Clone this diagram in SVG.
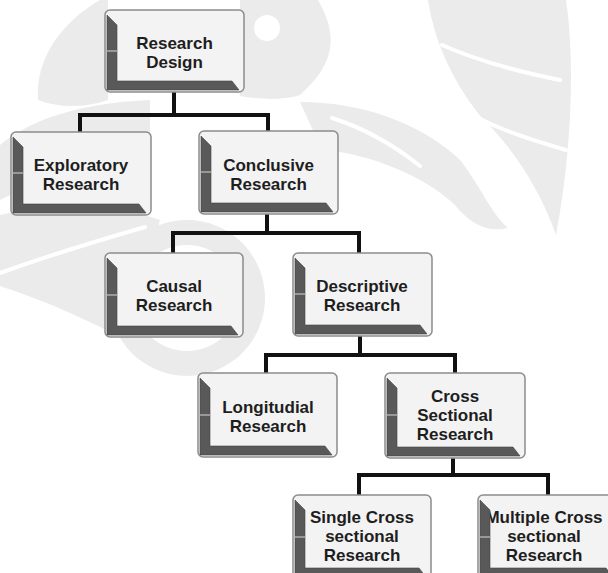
<svg xmlns="http://www.w3.org/2000/svg" width="608" height="573" viewBox="0 0 608 573">
<style>
.frame{fill:#f3f3f3;stroke:#8c8c8c;stroke-width:1.5}
.bevel{fill:#595959;stroke:#444;stroke-width:0.6}
.tick{stroke:#d8d8d8;stroke-width:1}
.lbl{font-family:"Liberation Sans",Arial,sans-serif;font-weight:700;font-size:17px;fill:#1e1e1e;text-anchor:middle}
.conn{fill:none;stroke:#111;stroke-width:4;stroke-linejoin:miter;stroke-linecap:butt}
.wm{fill:#ebebeb;fill-rule:evenodd}
.wmgap{fill:none;stroke:#ffffff;stroke-width:4;stroke-linecap:round}
</style>
<rect width="608" height="573" fill="#ffffff"/>
<g id="watermark">
<path class="wm" d="M100,0 C62,22 35,58 38,100 C60,108 85,108 108,100 L108,0 Z"/>
<path class="wm" d="M240,0 L318,0 C335,30 340,60 300,95 C285,100 260,100 240,96 Z M280,28 A13,13 0 1 0 254,28 A13,13 0 1 0 280,28 Z"/>
<path class="wm" d="M428,0 L566,0 C575,60 572,150 556,235 C540,190 515,150 482,118 C455,85 435,45 428,0 Z"/>
<path class="wmgap" d="M442,45 C480,62 520,72 560,80"/>
<path class="wmgap" d="M455,105 C485,125 525,138 566,150"/>
<path class="wm" d="M300,102 C360,102 420,122 460,160 C480,185 490,212 508,228 C488,233 470,224 455,205 C420,172 360,152 322,150 Z"/>
<path class="wmgap" d="M332,118 C370,130 400,150 420,166"/>
<path class="wm" d="M0,145 C40,112 100,102 150,100 L150,160 C100,165 40,180 0,200 Z"/>
<path class="wm" d="M0,215 C60,202 120,206 160,220 L150,260 C122,298 112,320 127,340 C90,322 50,302 0,286 Z"/>
<path class="wmgap" d="M0,273 C50,255 100,240 145,227"/>
<path class="wm" d="M265,298 A78,78 0 1 0 109,298 A78,78 0 1 0 265,298 Z M240,298 A53,53 0 1 0 134,298 A53,53 0 1 0 240,298 Z"/>
</g>
<g id="connectors">
<path class="conn" d="M174,92 V115 M80,132 V115 H268 V131"/>
<path class="conn" d="M267,214 V233 M173,253 V233 H359 V253"/>
<path class="conn" d="M360,336 V355 M266,373 V355 H455 V373"/>
<path class="conn" d="M453,458 V475 M359,495 V475 H548 V495"/>
</g>
<g id="n-research-design">
<rect class="frame" x="105" y="10" width="139" height="82" rx="5"/>
<text class="lbl" x="174.5" y="49">Research</text>
<text class="lbl" x="174.5" y="68">Design</text>
<path class="bevel" d="M107,15 L117,25 L117,81 L232,81 L239,90 L107,90 Z"/>
<line class="tick" x1="107" y1="51" x2="117" y2="51"/>
</g>
<g id="n-exploratory">
<rect class="frame" x="11" y="132" width="140" height="83" rx="5"/>
<text class="lbl" x="81" y="171">Exploratory</text>
<text class="lbl" x="81" y="190">Research</text>
<path class="bevel" d="M13,137 L23,147 L23,204 L139,204 L146,213 L13,213 Z"/>
<line class="tick" x1="13" y1="173" x2="23" y2="173"/>
</g>
<g id="n-conclusive">
<rect class="frame" x="199" y="131" width="139" height="83" rx="5"/>
<text class="lbl" x="268.5" y="171">Conclusive</text>
<text class="lbl" x="268.5" y="190">Research</text>
<path class="bevel" d="M201,136 L211,146 L211,203 L326,203 L333,212 L201,212 Z"/>
<line class="tick" x1="201" y1="172" x2="211" y2="172"/>
</g>
<g id="n-causal">
<rect class="frame" x="105" y="253" width="138" height="84" rx="5"/>
<text class="lbl" x="174" y="292">Causal</text>
<text class="lbl" x="174" y="311">Research</text>
<path class="bevel" d="M107,258 L117,268 L117,326 L231,326 L238,335 L107,335 Z"/>
<line class="tick" x1="107" y1="295" x2="117" y2="295"/>
</g>
<g id="n-descriptive">
<rect class="frame" x="293" y="253" width="139" height="83" rx="5"/>
<text class="lbl" x="362" y="292">Descriptive</text>
<text class="lbl" x="362" y="311">Research</text>
<path class="bevel" d="M295,258 L305,268 L305,325 L420,325 L427,334 L295,334 Z"/>
<line class="tick" x1="295" y1="294" x2="305" y2="294"/>
</g>
<g id="n-longitudial">
<rect class="frame" x="198" y="373" width="139" height="84" rx="5"/>
<text class="lbl" x="268" y="413">Longitudial</text>
<text class="lbl" x="268" y="432">Research</text>
<path class="bevel" d="M200,378 L210,388 L210,446 L325,446 L332,455 L200,455 Z"/>
<line class="tick" x1="200" y1="415" x2="210" y2="415"/>
</g>
<g id="n-cross-sectional">
<rect class="frame" x="385" y="373" width="140" height="85" rx="5"/>
<text class="lbl" x="455" y="402">Cross</text>
<text class="lbl" x="455" y="421">Sectional</text>
<text class="lbl" x="455" y="440">Research</text>
<path class="bevel" d="M387,378 L397,388 L397,447 L513,447 L520,456 L387,456 Z"/>
<line class="tick" x1="387" y1="415" x2="397" y2="415"/>
</g>
<g id="n-single-cross">
<rect class="frame" x="293" y="495" width="138" height="84" rx="5"/>
<text class="lbl" x="362" y="523">Single Cross</text>
<text class="lbl" x="362" y="542">sectional</text>
<text class="lbl" x="362" y="561">Research</text>
<path class="bevel" d="M295,500 L305,510 L305,568 L419,568 L426,577 L295,577 Z"/>
<line class="tick" x1="295" y1="537" x2="305" y2="537"/>
</g>
<g id="n-multiple-cross">
<rect class="frame" x="478" y="495" width="140" height="84" rx="5"/>
<text class="lbl" x="544" y="523">Multiple Cross</text>
<text class="lbl" x="544" y="542">sectional</text>
<text class="lbl" x="544" y="561">Research</text>
<path class="bevel" d="M480,500 L490,510 L490,568 L606,568 L613,577 L480,577 Z"/>
<line class="tick" x1="480" y1="537" x2="490" y2="537"/>
</g>
</svg>
